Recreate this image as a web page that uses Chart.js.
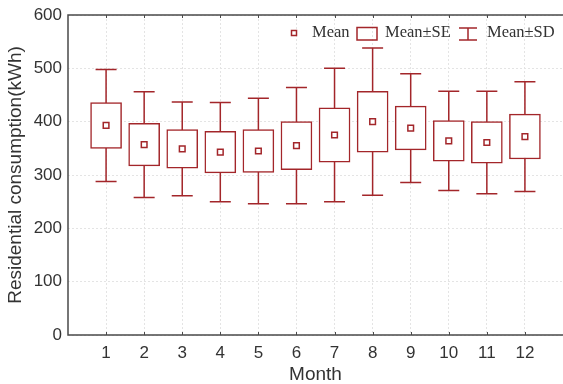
<!DOCTYPE html>
<html>
<head>
<meta charset="utf-8">
<script src="https://cdn.jsdelivr.net/npm/chart.js@4.4.1/dist/chart.umd.min.js"></script>
<style>
  html, body { margin: 0; padding: 0; background: #fff; }
  #wrap { width: 563px; height: 384px; }
</style>
</head>
<body>
<div id="wrap"><canvas id="monthChart" width="563" height="384"></canvas></div>
<script>
// Dados (consumo residencial por mês)
const months = [1, 2, 3, 4, 5, 6, 7, 8, 9, 10, 11, 12];
const meanVals = [393, 357, 349, 343, 345, 355, 375, 400, 388, 364, 361, 372];
const seVals = [43, 40, 36, 39, 40, 45, 51, 57, 41, 38, 39, 42];
const sdVals = [105, 99, 88, 93, 99, 109, 125, 138, 102, 93, 96, 103];
const yTicks = [0, 100, 200, 300, 400, 500, 600];

const RED = '#a3262a';
const AXIS = '#4a4a4a';
const TXT = '#333333';
const SANS = '"Liberation Sans", Arial, sans-serif';
const SERIF = '"Liberation Serif", "DejaVu Serif", serif';

// Barras de erro (média ± DP), desenhadas antes das caixas
const whiskerPlugin = {
    id: 'whiskers',
    beforeDatasetsDraw(chart) {
        const ctx = chart.ctx;
        const xs = chart.scales.x, ys = chart.scales.y;
        ctx.save();
        ctx.strokeStyle = RED;
        ctx.lineWidth = 1.5;
        months.forEach((m, i) => {
            const x = xs.getPixelForValue(m);
            const top = ys.getPixelForValue(meanVals[i] + sdVals[i]);
            const bot = ys.getPixelForValue(meanVals[i] - sdVals[i]);
            ctx.beginPath();
            ctx.moveTo(x, top); ctx.lineTo(x, bot);
            ctx.moveTo(x - 10.5, top); ctx.lineTo(x + 10.5, top);
            ctx.moveTo(x - 10.5, bot); ctx.lineTo(x + 10.5, bot);
            ctx.stroke();
        });
        ctx.restore();
    }
};

// Moldura (sem lado direito), marcas e legenda
const framePlugin = {
    id: 'frame',
    afterDraw(chart) {
        const ctx = chart.ctx;
        const a = chart.chartArea;
        const xs = chart.scales.x;
        ctx.save();
        ctx.strokeStyle = AXIS;
        ctx.lineWidth = 1.5;
        ctx.beginPath();
        ctx.moveTo(a.right, a.top); ctx.lineTo(a.left, a.top);
        ctx.lineTo(a.left, a.bottom); ctx.lineTo(a.right, a.bottom);
        ctx.stroke();
        ctx.lineWidth = 1;
        ctx.beginPath();
        months.forEach(m => {
            const x = Math.round(xs.getPixelForValue(m)) + 0.5;
            ctx.moveTo(x, a.bottom); ctx.lineTo(x, a.bottom - 3);
            ctx.moveTo(x, a.top); ctx.lineTo(x, a.top + 3);
        });
        ctx.stroke();

        // legenda
        const ly = 33;
        ctx.strokeStyle = RED;
        ctx.lineWidth = 1.5;
        ctx.fillStyle = '#fff';
        ctx.fillRect(291.5, ly - 2.5, 5, 5);
        ctx.strokeRect(291.5, ly - 2.5, 5, 5);
        ctx.strokeRect(357, 27.5, 20, 12.5);
        ctx.beginPath();
        ctx.moveTo(459, 28); ctx.lineTo(477, 28);
        ctx.moveTo(468, 28); ctx.lineTo(468, 40);
        ctx.moveTo(459, 40); ctx.lineTo(477, 40);
        ctx.stroke();
        ctx.fillStyle = TXT;
        ctx.font = '16.5px ' + SERIF;
        ctx.textBaseline = 'middle';
        ctx.textAlign = 'left';
        ctx.fillText('Mean', 312, ly);
        ctx.fillText('Mean\u00b1SE', 385, ly);
        ctx.fillText('Mean\u00b1SD', 487, ly);
        ctx.restore();
    }
};

const ctx = document.getElementById('monthChart').getContext('2d');
const chart = new Chart(ctx, {
    data: {
        datasets: [{
            type: 'scatter',
            label: 'Mean',
            data: months.map((m, i) => ({ x: m, y: meanVals[i] })),
            pointStyle: 'rect',
            pointRadius: 4,
            pointBackgroundColor: '#fff',
            pointBorderColor: RED,
            pointBorderWidth: 1.5,
            order: 0
        }, {
            type: 'bar',
            label: 'Mean\u00b1SE',
            data: months.map((m, i) => ({ x: m, y: [meanVals[i] - seVals[i], meanVals[i] + seVals[i]] })),
            backgroundColor: '#fff',
            borderColor: RED,
            borderWidth: 1.5,
            borderSkipped: false,
            barThickness: 31,
            grouped: false,
            order: 1
        }]
    },
    options: {
        responsive: false,
        animation: false,
        layout: { autoPadding: false, padding: { left: 0, right: 0, top: 15, bottom: 0 } },
        plugins: {
            legend: { display: false },
            tooltip: { enabled: false }
        },
        scales: {
            x: {
                type: 'linear',
                min: 0,
                max: 13,
                offset: false,
                grid: {
                    color: '#e4e4e4',
                    lineWidth: 1,
                    drawTicks: false,
                    offset: false
                },
                border: { display: false, dash: [2, 2] },
                afterBuildTicks(scale) {
                    scale.ticks = months.map(v => ({ value: v }));
                },
                afterFit(scale) {
                    scale.height = 49;
                    scale.paddingLeft = 0;
                    scale.paddingRight = 0;
                },
                ticks: {
                    color: TXT,
                    padding: 8,
                    maxRotation: 0,
                    font: { family: SANS, size: 17 }
                },
                title: {
                    display: true,
                    text: 'Month',
                    color: TXT,
                    padding: { top: 6, bottom: -2 },
                    font: { family: SANS, size: 19 }
                }
            },
            y: {
                min: 0,
                max: 600,
                grid: {
                    color: '#e4e4e4',
                    lineWidth: 1,
                    drawTicks: false
                },
                border: { display: false, dash: [2, 2] },
                afterBuildTicks(scale) {
                    scale.ticks = yTicks.map(v => ({ value: v }));
                },
                afterFit(scale) {
                    scale.width = 68;
                    scale.paddingTop = 0;
                    scale.paddingBottom = 0;
                },
                ticks: {
                    color: TXT,
                    padding: 6,
                    font: { family: SANS, size: 17 }
                },
                title: {
                    display: true,
                    text: 'Residential consumption(kWh)',
                    color: TXT,
                    padding: { bottom: 1 },
                    font: { family: SANS, size: 19 }
                }
            }
        }
    },
    plugins: [whiskerPlugin, framePlugin]
});
</script>
</body>
</html>
